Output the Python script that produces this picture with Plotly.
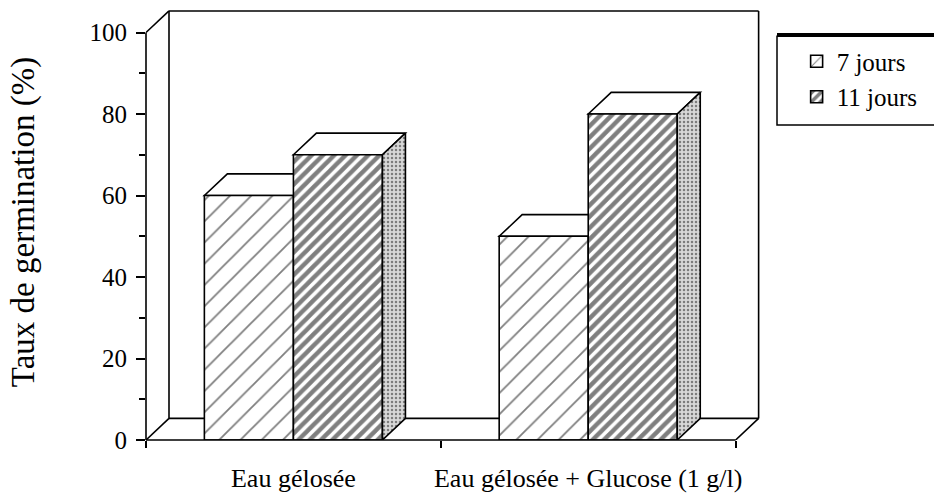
import plotly.graph_objects as go

# ---------------- data ----------------
categories = ["Eau gélosée", "Eau gélosée + Glucose (1 g/l)"]
series_names = ["7 jours", "11 jours"]
values_7j = [60, 50]
values_11j = [70, 80]
y_ticks = [0, 20, 40, 60, 80, 100]
y_minor_ticks = [10, 30, 50, 70, 90]
x_bounds = [-0.5, 0.5, 1.5]

# ---------------- style / geometry ----------------
FONT = "Liberation Serif"
BAR_W = 0.302
DX = 0.078      # 3D depth offset (x units)
DY = 5.3        # 3D depth offset (y units)
X_MIN, X_MAX = x_bounds[0], x_bounds[-1]
Y_TOP = y_ticks[-1]
LW = 1.6

xpos = list(range(len(categories)))
series = [values_7j, values_11j]
offsets = [-BAR_W, 0.0]
patterns = [
    dict(shape="/", size=15, solidity=0.12, fgcolor="black", bgcolor="white", fillmode="overlay"),
    dict(shape="/", size=8, solidity=0.56, fgcolor="black", bgcolor="white", fillmode="overlay"),
]

fig = go.Figure()

# front faces (bars)
for name, vals, off, pat in zip(series_names, series, offsets, patterns):
    fig.add_trace(go.Bar(
        x=xpos, y=vals, name=name, width=BAR_W, offset=off,
        marker=dict(color="white", pattern=pat, line=dict(color="black", width=LW)),
        hoverinfo="skip",
    ))

# side faces of the right-most series (stippled)
for c, v in zip(xpos, series[-1]):
    xr = c + offsets[-1] + BAR_W
    fig.add_trace(go.Scatter(
        x=[xr, xr + DX, xr + DX, xr, xr],
        y=[0, DY, v + DY, v, 0],
        mode="lines", fill="toself",
        fillcolor="#cfcfcf",
        fillpattern=dict(shape=".", size=4, solidity=0.3, fgcolor="#222222", bgcolor="#d8d8d8"),
        line=dict(color="black", width=LW),
        showlegend=False, hoverinfo="skip",
    ))

shapes = []
# 3D box: back wall and floor
box_lines = [
    (X_MIN, Y_TOP, X_MIN + DX, Y_TOP + DY),
    (X_MIN + DX, Y_TOP + DY, X_MAX + DX, Y_TOP + DY),
    (X_MAX + DX, Y_TOP + DY, X_MAX + DX, DY),
    (X_MIN + DX, Y_TOP + DY, X_MIN + DX, DY),
    (X_MIN + DX, DY, X_MAX + DX, DY),
    (X_MIN, 0, X_MIN + DX, DY),
    (X_MAX, 0, X_MAX + DX, DY),
]
for x0, y0, x1, y1 in box_lines:
    shapes.append(dict(type="line", xref="x", yref="y", x0=x0, y0=y0, x1=x1, y1=y1,
                       line=dict(color="black", width=LW), layer="below"))
# front y axis line and front floor line
shapes.append(dict(type="line", xref="paper", yref="y", x0=0, x1=0, y0=0, y1=Y_TOP,
                   line=dict(color="black", width=LW), layer="below"))
shapes.append(dict(type="line", xref="x", yref="paper", x0=X_MIN, x1=X_MAX, y0=0, y1=0,
                   line=dict(color="black", width=LW), layer="above"))

# top faces of bars
for vals, off in zip(series, offsets):
    for c, v in zip(xpos, vals):
        x0 = c + off
        x1 = x0 + BAR_W
        path = (f"M{x0},{v} L{x0 + DX},{v + DY} L{x1 + DX},{v + DY} L{x1},{v} Z")
        shapes.append(dict(type="path", xref="x", yref="y", path=path,
                           fillcolor="white", line=dict(color="black", width=LW), layer="below"))

# legend frame (thick top edge)
shapes.append(dict(type="rect", xref="paper", yref="paper", x0=1.0096, x1=1.35, y0=0.7225, y1=0.926,
                   line=dict(color="black", width=1.5), fillcolor="rgba(0,0,0,0)"))
shapes.append(dict(type="line", xref="paper", yref="paper", x0=1.0096, x1=1.35, y0=0.929, y1=0.929,
                   line=dict(color="black", width=4)))

fig.update_layout(
    width=934, height=495,
    margin=dict(l=146, r=163, t=4, b=55),
    paper_bgcolor="white", plot_bgcolor="rgba(0,0,0,0)",
    barmode="overlay",
    font=dict(family=FONT, color="black", size=24),
    showlegend=True,
    legend=dict(x=1.041, y=0.921, xanchor="left", yanchor="top",
                bgcolor="rgba(0,0,0,0)", borderwidth=0,
                font=dict(family=FONT, size=25, color="black"),
                traceorder="normal"),
    xaxis=dict(range=[X_MIN, 1.62], tickmode="array", tickvals=xpos, ticktext=categories,
               ticks="", showgrid=False, zeroline=False, showline=False, automargin=False,
               ticklabelstandoff=20,
               tickfont=dict(family=FONT, size=26, color="black"),
               minor=dict(tickmode="array", tickvals=x_bounds, ticks="outside", ticklen=7,
                          tickwidth=LW, tickcolor="black", showgrid=False)),
    yaxis=dict(range=[0, 107], tickmode="array", tickvals=y_ticks,
               ticks="outside", ticklen=9, tickwidth=LW, tickcolor="black",
               showgrid=False, zeroline=False, showline=False, automargin=True,
               ticklabelstandoff=4,
               tickfont=dict(family=FONT, size=25, color="black"),
               minor=dict(tickmode="array", tickvals=y_minor_ticks, ticks="outside", ticklen=6,
                          tickwidth=LW, tickcolor="black", showgrid=False),
               title=dict(text="Taux de germination (%)", font=dict(family=FONT, size=33, color="black"),
                          standoff=44)),
    shapes=shapes,
)

fig.write_html("out.html", config={"displayModeBar": False},
               post_script="document.body.style.margin='0px';")
